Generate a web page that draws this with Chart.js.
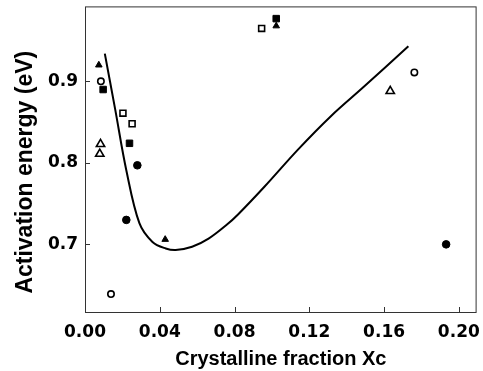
<!DOCTYPE html>
<html>
<head>
<meta charset="utf-8">
<script src="https://cdn.jsdelivr.net/npm/chart.js@4.4.1/dist/chart.umd.min.js"></script>
<style>
    html, body { margin: 0; padding: 0; background: #fff; }
    #wrap { width: 483px; height: 371px; position: relative; }
</style>
</head>
<body>
<div id="wrap"><canvas id="energyChart"></canvas></div>
<script>
// values
const filledSquareX = [0.0097, 0.0238, 0.1023];
const filledSquareY = [0.890, 0.824, 0.977];
const openSquareX = [0.0203, 0.0252, 0.0945];
const openSquareY = [0.861, 0.848, 0.965];
const filledCircleX = [0.0221, 0.0280, 0.1932];
const filledCircleY = [0.730, 0.797, 0.700];
const openCircleX = [0.0085, 0.0139, 0.1762];
const openCircleY = [0.900, 0.639, 0.911];
const filledTriangleX = [0.0074, 0.0429, 0.1023];
const filledTriangleY = [0.920, 0.706, 0.968];
const openTriangleX = [0.0079, 0.0083, 0.1633];
const openTriangleY = [0.811, 0.823, 0.888];

// fitted curve
const fitX = [0.0106, 0.0162, 0.0221, 0.0291, 0.0361, 0.0432, 0.0485, 0.0573, 0.0661, 0.0758, 0.0820, 0.0961, 0.1138, 0.1314, 0.1490, 0.1730];
const fitY = [0.934, 0.865, 0.791, 0.726, 0.703, 0.695, 0.693, 0.697, 0.707, 0.724, 0.737, 0.771, 0.816, 0.857, 0.893, 0.943];

const xTicks = [0.00, 0.04, 0.08, 0.12, 0.16, 0.20];
const yTicks = [0.7, 0.8, 0.9];

function toPoints(xs, ys) {
    return xs.map((x, i) => ({ x: x, y: ys[i] }));
}

function markerSet(label, xs, ys, style, filled, radius) {
    return {
        label: label,
        data: toPoints(xs, ys),
        pointStyle: style,
        pointRadius: radius,
        pointHoverRadius: radius,
        pointBorderWidth: filled ? 1 : 1.6,
        borderColor: '#000',
        backgroundColor: filled ? '#000' : '#fff',
        showLine: false,
        clip: false
    };
}

// box round the plot and inward tick marks
const framePlugin = {
    id: 'frame',
    afterLayout(chart) {
        // the y title sits a bit below the middle of the axis in the original
        chart.scales.y.top += 26;
    },
    afterDraw(chart) {
        const { ctx, chartArea: a, scales } = chart;
        ctx.save();
        ctx.strokeStyle = '#333';
        ctx.lineWidth = 1;
        ctx.strokeRect(a.left + 0.5, a.top + 0.5, a.right - a.left - 1, a.bottom - a.top);
        ctx.beginPath();
        xTicks.forEach(v => {
            const px = Math.round(scales.x.getPixelForValue(v)) + 0.5;
            ctx.moveTo(px, a.bottom);
            ctx.lineTo(px, a.bottom - 5);
        });
        yTicks.forEach(v => {
            const py = Math.round(scales.y.getPixelForValue(v)) + 0.5;
            ctx.moveTo(a.left, py);
            ctx.lineTo(a.left + 5, py);
        });
        ctx.stroke();
        ctx.restore();
    }
};

const ctx = document.getElementById('energyChart').getContext('2d');

new Chart(ctx, {
    type: 'scatter',
    data: {
        datasets: [
            {
                label: 'Fit',
                data: toPoints(fitX, fitY),
                showLine: true,
                borderColor: '#000',
                borderWidth: 2,
                pointRadius: 0,
                tension: 0.35,
                fill: false,
                clip: false
            },
            markerSet('Filled square', filledSquareX, filledSquareY, 'rect', true, 4.6),
            markerSet('Open square', openSquareX, openSquareY, 'rect', false, 4.2),
            markerSet('Filled circle', filledCircleX, filledCircleY, 'circle', true, 3.8),
            markerSet('Open circle', openCircleX, openCircleY, 'circle', false, 3.2),
            markerSet('Filled triangle', filledTriangleX, filledTriangleY, 'triangle', true, 3.8),
            markerSet('Open triangle', openTriangleX, openTriangleY, 'triangle', false, 4.8)
        ]
    },
    options: {
        responsive: true,
        maintainAspectRatio: false,
        animation: false,
        layout: {
            padding: { left: 0, right: 2, top: 6, bottom: 0 }
        },
        plugins: {
            legend: { display: false },
            tooltip: { enabled: false }
        },
        scales: {
            x: {
                type: 'linear',
                min: 0,
                max: 0.2095,
                afterFit(scale) {
                    scale.height = 59;
                    scale.paddingLeft = 0;
                    scale.paddingRight = 0;
                },
                afterBuildTicks(scale) {
                    scale.ticks = xTicks.map(v => ({ value: v }));
                },
                grid: { display: false, drawTicks: false },
                border: { display: false },
                ticks: {
                    padding: 10,
                    color: '#000',
                    maxRotation: 0,
                    font: { family: 'DejaVu Sans', weight: 'bold', size: 17 },
                    callback: v => v.toFixed(2)
                },
                title: {
                    display: true,
                    text: 'Crystalline fraction Xc',
                    color: '#000',
                    padding: { top: 0, bottom: 0 },
                    font: { family: 'Liberation Sans', weight: 'bold', size: 20 }
                }
            },
            y: {
                type: 'linear',
                min: 0.617,
                max: 0.992,
                afterFit(scale) {
                    scale.width = 85;
                    scale.paddingTop = 0;
                    scale.paddingBottom = 0;
                },
                afterBuildTicks(scale) {
                    scale.ticks = yTicks.map(v => ({ value: v }));
                },
                grid: { display: false, drawTicks: false },
                border: { display: false },
                ticks: {
                    padding: 7,
                    color: '#000',
                    font: { family: 'DejaVu Sans', weight: 'bold', size: 17 },
                    callback: v => v.toFixed(1)
                },
                title: {
                    display: true,
                    text: 'Activation energy (eV)',
                    color: '#000',
                    padding: { top: 12, bottom: 0 },
                    font: { family: 'Liberation Sans', weight: 'bold', size: 23 }
                }
            }
        }
    },
    plugins: [framePlugin]
});
</script>
</body>
</html>
